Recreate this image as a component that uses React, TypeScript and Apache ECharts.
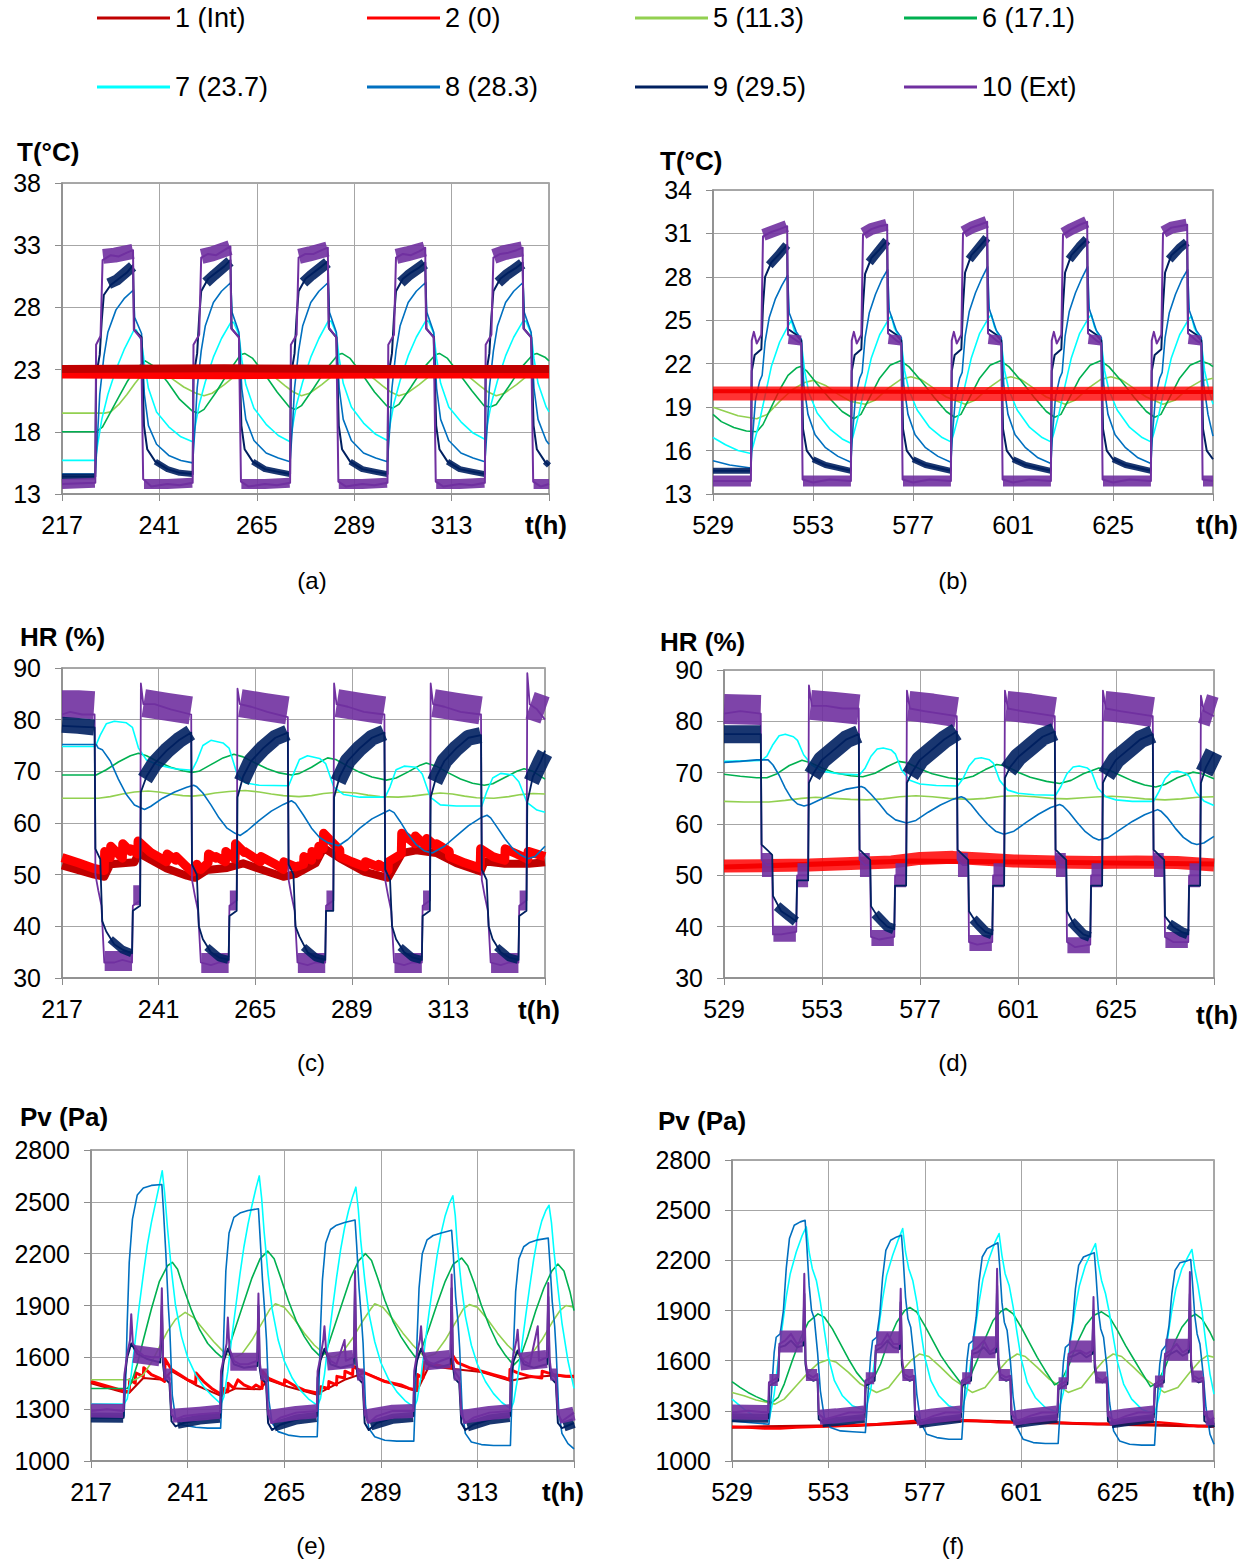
import React, { useEffect, useRef } from "react";
import * as echarts from "echarts";

type P = [number, number];

const FONT = '"Liberation Sans", Arial, Helvetica, sans-serif';

const N1 = "1 (Int)";
const N2 = "2 (0)";
const N5 = "5 (11.3)";
const N6 = "6 (17.1)";
const N7 = "7 (23.7)";
const N8 = "8 (28.3)";
const N9 = "9 (29.5)";
const N10 = "10 (Ext)";
const LEGEND_NAMES = [N1, N2, N5, N6, N7, N8, N9, N10];

const COLOR: Record<string, string> = {
  [N1]: "#C00000",
  [N2]: "#FF0000",
  [N5]: "#92D050",
  [N6]: "#00B050",
  [N7]: "#00FFFF",
  [N8]: "#0070C0",
  [N9]: "#002060",
  [N10]: "#7030A0",
};

// ================= Panel (a): T (°C), t 217-337 =================
const a_int: P[] = [[217, 23.05], [257, 23.1], [297, 23.05], [337, 23.05]];
const a_p0: P[] = [[217, 22.6], [257, 22.55], [297, 22.6], [337, 22.6]];
const a_s5: P[] = [[217,19.5],[227.5,19.5],[229,19.6],[231,20.2],[233,21.0],[235,21.9],[237,22.7],[239,23.1],[241,22.9],[244,22.3],[247,21.6],[250,21.1],[252,20.9],[254,21.1],[257,21.8],[260,22.6],[263,23.2],[264,23.3],[266,23.1],[269,22.5],[272,21.7],[274,21.2],[276,20.9],[278,21.1],[281,21.8],[284,22.6],[287,23.2],[288,23.3],[290,23.1],[293,22.5],[296,21.7],[298,21.2],[300,20.9],[302,21.1],[305,21.8],[308,22.6],[311,23.2],[312,23.3],[314,23.1],[317,22.5],[320,21.7],[322,21.2],[324,20.9],[326,21.1],[329,21.8],[332,22.6],[335,23.1],[337,23.2]];
const a_s6: P[] = [[217,18.0],[225.5,18.0],[227,18.4],[229,19.6],[231,20.8],[233,22.0],[235,23.0],[237.5,23.7],[240,23.2],[243,22.0],[246,20.6],[249,19.7],[250.5,19.5],[252,19.8],[255,21.2],[258,22.8],[261,24.2],[262,24.3],[264,23.9],[267,22.6],[270,21.2],[273,20.0],[274.5,19.8],[276,20.1],[279,21.5],[282,23.0],[285,24.2],[286,24.3],[288,23.9],[291,22.6],[294,21.2],[297,20.1],[298.5,19.9],[300,20.2],[303,21.6],[306,23.1],[309,24.2],[310,24.3],[312,23.9],[315,22.6],[318,21.3],[321,20.1],[322.5,20.0],[324,20.2],[327,21.6],[330,23.1],[333,24.2],[334,24.3],[336,24.0],[337,23.7]];
const a_s7: P[] = [[217,15.7],[225.2,15.7],
  [225.8,17.0],[226.8,19.0],[228.3,21.0],[230.3,23.0],[232.3,24.6],[234.6,26.1],[235.3,26.2],[236.6,25.3],[237.3,23.5],[238.3,21.5],[240.3,19.6],[243.3,18.4],[246.3,17.6],[249.2,17.2],
  [249.8,18.4],[250.8,20.2],[252.3,22.0],[254.3,24.0],[256.3,25.5],[258.6,26.8],[259.3,26.8],[260.6,25.8],[261.3,23.8],[262.3,21.8],[264.3,19.9],[267.3,18.6],[270.3,17.7],[273.2,17.2],
  [273.8,18.4],[274.8,20.2],[276.3,22.0],[278.3,24.0],[280.3,25.5],[282.6,26.9],[283.3,26.9],[284.6,25.9],[285.3,23.9],[286.3,21.9],[288.3,20.0],[291.3,18.7],[294.3,17.8],[297.2,17.3],
  [297.8,18.5],[298.8,20.3],[300.3,22.1],[302.3,24.1],[304.3,25.6],[306.6,26.9],[307.3,26.9],[308.6,25.9],[309.3,23.9],[310.3,21.9],[312.3,20.0],[315.3,18.8],[318.3,17.9],[321.2,17.4],
  [321.8,18.6],[322.8,20.3],[324.3,22.1],[326.3,24.1],[328.3,25.6],[330.6,26.9],[331.3,26.9],[332.6,25.9],[333.3,23.9],[334.3,21.9],[336.3,20.0],[337,19.6]];
const a_s8: P[] = [[217,14.6],[225.2,14.6],
  [225.8,18.0],[226.3,21.0],[227.3,24.0],[228.3,26.0],[230.3,27.8],[232.3,28.7],[234.6,29.4],[234.9,27.2],[236.6,25.9],[237.3,21.0],[238.3,18.5],[240.3,17.0],[243.3,16.1],[246.3,15.7],[249.2,15.5],
  [249.8,18.5],[250.3,21.5],[251.3,24.5],[252.3,26.5],[254.3,28.4],[256.3,29.3],[258.6,30.0],[258.9,27.6],[260.6,26.0],[261.3,21.5],[262.3,19.0],[264.3,17.3],[267.3,16.3],[270.3,15.9],[273.2,15.6],
  [273.8,18.5],[274.3,21.5],[275.3,24.5],[276.3,26.5],[278.3,28.4],[280.3,29.3],[282.6,30.0],[282.9,27.6],[284.6,26.0],[285.3,21.5],[286.3,19.0],[288.3,17.3],[291.3,16.3],[294.3,15.9],[297.2,15.6],
  [297.8,18.5],[298.3,21.5],[299.3,24.5],[300.3,26.5],[302.3,28.4],[304.3,29.3],[306.6,30.0],[306.9,27.6],[308.6,26.0],[309.3,21.5],[310.3,19.0],[312.3,17.3],[315.3,16.3],[318.3,15.9],[321.2,15.6],
  [321.8,18.5],[322.3,21.5],[323.3,24.5],[324.3,26.5],[326.3,28.4],[328.3,29.3],[330.6,30.0],[330.9,27.6],[332.6,26.0],[333.3,21.5],[334.3,19.0],[336.3,17.3],[337,17.0]];
const a_s9: P[] = [[217,14.4],[225.2,14.4],
  [225.4,22.5],[226.3,24.2],[226.8,27.0],[227.3,29.0],[229,29.8],[231,30.3],[233,30.8],[234.5,31.4],[234.8,26.2],[236.6,25.6],[237.2,18.5],[238,16.6],[240,15.6],[243,15.0],[246,14.7],[249.2,14.6],
  [249.4,22.5],[250.3,24.3],[250.8,27.2],[251.3,29.3],[253,30.3],[255,30.8],[257,31.3],[258.5,31.8],[258.8,26.3],[260.6,25.6],[261.2,18.5],[262,16.6],[264,15.6],[267,15.0],[270,14.8],[273.2,14.6],
  [273.4,22.5],[274.3,24.3],[274.8,27.2],[275.3,29.3],[277,30.3],[279,30.8],[281,31.3],[282.5,31.7],[282.8,26.3],[284.6,25.6],[285.2,18.5],[286,16.6],[288,15.6],[291,15.0],[294,14.8],[297.2,14.6],
  [297.4,22.5],[298.3,24.3],[298.8,27.2],[299.3,29.3],[301,30.3],[303,30.8],[305,31.2],[306.5,31.6],[306.8,26.3],[308.6,25.6],[309.2,18.5],[310,16.6],[312,15.6],[315,15.0],[318,14.8],[321.2,14.6],
  [321.4,22.5],[322.3,24.3],[322.8,27.2],[323.3,29.3],[325,30.3],[327,30.8],[329,31.2],[330.5,31.6],[330.8,26.3],[332.6,25.6],[333.2,18.5],[334,16.6],[336,15.6],[337,15.3]];
const a_s9_hi: P[][] = [[[228.5,29.9],[230.5,30.2],[234.4,31.3]],[[252.5,30.0],[254.5,30.6],[258.4,31.7]],[[276.5,30.0],[278.5,30.6],[282.4,31.6]],[[300.5,30.0],[302.5,30.6],[306.4,31.5]],[[324.5,30.0],[326.5,30.6],[330.4,31.5]]];
const a_s9_lo: P[][] = [[[217,14.4],[225.2,14.4]],[[240,15.6],[243,15.0],[246,14.7],[249.2,14.6]],[[264,15.6],[267,15.0],[270,14.8],[273.2,14.6]],[[288,15.6],[291,15.0],[294,14.8],[297.2,14.6]],[[312,15.6],[315,15.0],[318,14.8],[321.2,14.6]],[[336,15.6],[337,15.3]]];
const a_ext: P[] = [[217,13.8],[225.2,13.9],
  [225.4,25.0],[226.5,25.7],[227.0,31.8],[229,32.2],[231,32.1],[233,32.4],[234.5,32.6],[234.7,26.2],[236.5,25.5],[237.0,14.2],[239,13.6],[243,13.8],[246,13.7],[249.2,13.9],
  [249.4,25.0],[250.8,25.8],[251.3,32.0],[253,32.3],[255,32.2],[257,32.6],[258.5,32.9],[258.7,26.3],[260.6,25.6],[261.1,14.0],[263,13.6],[267,13.8],[270,13.7],[273.2,13.9],
  [273.4,25.0],[274.8,25.8],[275.3,32.0],[277,32.3],[279,32.3],[281,32.6],[282.5,32.8],[282.7,26.4],[284.6,25.6],[285.1,14.0],[287,13.6],[291,13.8],[294,13.7],[297.2,13.9],
  [297.4,25.0],[298.8,25.8],[299.3,32.0],[301,32.3],[303,32.2],[305,32.5],[306.5,32.8],[306.7,26.3],[308.6,25.6],[309.1,14.0],[311,13.6],[315,13.8],[318,13.7],[321.2,13.9],
  [321.4,25.0],[322.8,25.8],[323.3,32.0],[325,32.3],[327,32.4],[329,32.6],[330.5,32.8],[330.7,26.3],[332.6,25.6],[333.1,14.0],[335,13.6],[337,13.8]];
const a_ext_hi: P[][] = [[[227.1,32.1],[230,32.2],[234.5,32.5]],[[251.4,32.1],[254,32.3],[258.4,32.8]],[[275.4,32.1],[278,32.3],[282.4,32.7]],[[299.4,32.1],[302,32.3],[306.4,32.7]],[[323.4,32.1],[326,32.4],[330.4,32.7]]];
const a_ext_lo: P[][] = [[[217,13.8],[225.1,13.9]],[[237.2,13.8],[243,13.8],[249.1,13.9]],[[261.2,13.8],[267,13.8],[273.1,13.9]],[[285.2,13.8],[291,13.8],[297.1,13.9]],[[309.2,13.8],[315,13.8],[321.1,13.9]],[[333.2,13.8],[337,13.8]]];

// ================= Panel (b): T (°C), t 529-649 =================
const b_int: P[] = [[529,20.1],[589,20.05],[649,20.05]];
const b_p0: P[] = [[529,19.95],[549,19.95],[589,19.9],[649,19.95]];
const b_s5: P[] = [[529,19.0],[532,18.7],[535,18.4],[539.5,18.2],[542,18.5],[545,19.4],[548,20.2],[551,20.7],[553,20.85],[556,20.5],[559,19.9],[562,19.4],[565.5,19.2],[568,19.5],[571,20.3],[574,20.9],[576.5,21.1],[579,20.9],[582,20.3],[585,19.7],[589.5,19.2],[592,19.5],[595,20.3],[598,20.9],[600.5,21.1],[603,20.9],[606,20.3],[609,19.7],[613.5,19.2],[616,19.5],[619,20.3],[622,20.9],[624.5,21.1],[627,20.9],[630,20.3],[633,19.7],[637,19.2],[640,19.5],[643,20.3],[646,20.8],[649,21.0]];
const b_s6: P[] = [[529,18.5],[531,18.0],[534,17.6],[537,17.35],[539.5,17.3],[541,17.8],[543,19.0],[545,20.2],[547,21.2],[549,21.7],[550,21.8],[551.5,21.5],[554,20.6],[557,19.6],[560,18.7],[562.8,18.2],[564.5,18.5],[566.5,19.6],[569,21.0],[571.5,21.9],[574,22.2],[576,21.8],[579,20.8],[582,19.7],[585,18.7],[587,18.3],[588.5,18.5],[590.5,19.6],[593,21.0],[595.5,21.9],[598,22.2],[600,21.8],[603,20.8],[606,19.7],[609,18.7],[611,18.3],[612.5,18.5],[614.5,19.6],[617,21.0],[619.5,21.9],[622,22.2],[624,21.8],[627,20.8],[630,19.7],[633,18.7],[635,18.3],[636.5,18.5],[638.5,19.6],[641,21.0],[643.5,21.9],[646,22.2],[648,22.0],[649,21.8]];
const b_s7: P[] = [[529,16.9],[532,16.4],[535,16.0],[538.1,15.8],
  [538.8,16.5],[540,17.8],[541.5,19.8],[543,21.8],[545,23.5],[547,24.6],[547.8,25.0],[548.5,24.3],[550.2,23.5],[551,21.5],[552,20.0],[554,18.6],[557,17.5],[560,16.8],[562.1,16.5],
  [562.8,17.2],[564,18.5],[565.5,20.5],[567,22.4],[569,24.0],[571,25.0],[571.8,25.3],[572.5,24.5],[574.2,23.5],[575,21.5],[576,20.2],[578,18.8],[581,17.6],[584,16.9],[586.1,16.6],
  [586.8,17.2],[588,18.5],[589.5,20.5],[591,22.4],[593,24.1],[595,25.1],[595.8,25.4],[596.5,24.6],[598.2,23.5],[599,21.5],[600,20.2],[602,18.8],[605,17.6],[608,16.9],[610.1,16.6],
  [610.8,17.2],[612,18.5],[613.5,20.5],[615,22.4],[617,24.1],[619,25.1],[619.8,25.4],[620.5,24.6],[622.2,23.5],[623,21.5],[624,20.2],[626,18.8],[629,17.6],[632,16.9],[634.1,16.6],
  [634.8,17.2],[636,18.5],[637.5,20.5],[639,22.4],[641,24.0],[643,25.0],[643.8,25.3],[644.5,24.5],[646.2,23.5],[647,21.5],[648,20.2],[649,19.2]];
const b_s8: P[] = [[529,15.3],[533,15.0],[538.1,14.8],
  [538.5,17.0],[539.2,19.5],[540.2,20.8],[540.8,21.2],[541.5,23.5],[542.5,25.2],[544,26.5],[545.5,27.4],[546.9,28.1],[547.3,25.5],[549,24.2],[550.2,23.7],[550.8,20.5],[551.8,18.5],[553.5,17.1],[556,16.2],[559,15.6],[562.1,15.2],
  [562.5,17.2],[563.2,19.7],[564.2,21.0],[564.8,21.4],[565.5,23.8],[566.5,25.5],[568,26.8],[569.5,27.8],[570.9,28.5],[571.3,25.7],[573,24.3],[574.2,23.8],[574.8,20.5],[575.8,18.5],[577.5,17.1],[580,16.2],[583,15.6],[586.1,15.2],
  [586.5,17.2],[587.2,19.7],[588.2,21.0],[588.8,21.4],[589.5,23.9],[590.5,25.6],[592,26.9],[593.5,27.9],[594.9,28.7],[595.3,25.8],[597,24.3],[598.2,23.8],[598.8,20.5],[599.8,18.5],[601.5,17.1],[604,16.2],[607,15.5],[610.1,15.1],
  [610.5,17.2],[611.2,19.7],[612.2,21.0],[612.8,21.4],[613.5,23.9],[614.5,25.6],[616,26.9],[617.5,27.9],[618.9,28.7],[619.3,25.8],[621,24.3],[622.2,23.8],[622.8,20.5],[623.8,18.5],[625.5,17.1],[628,16.2],[631,15.5],[634.1,15.1],
  [634.5,17.2],[635.2,19.7],[636.2,21.0],[636.8,21.4],[637.5,23.8],[638.5,25.5],[640,26.8],[641.5,27.8],[642.9,28.5],[643.3,25.7],[645,24.3],[646.2,23.8],[646.8,20.5],[647.8,18.5],[649,17.0]];
const b_s9: P[] = [[529,14.6],[538.1,14.6],
  [538.3,21.5],[539,22.6],[540.6,23.0],[541.0,26.0],[541.5,28.0],[543,29.0],[545,29.6],[546.8,30.2],[547.0,24.4],[549,24.0],[550.2,23.6],[550.6,17.5],[551.5,16.0],[553,15.4],[556,15.0],[559,14.8],[562.1,14.6],
  [562.3,21.5],[563,22.6],[564.6,23.0],[565.0,26.0],[565.5,28.2],[567,29.3],[569,29.9],[570.8,30.5],[571.0,24.4],[573,24.0],[574.2,23.6],[574.6,17.5],[575.5,16.0],[577,15.4],[580,15.0],[583,14.8],[586.1,14.6],
  [586.3,21.5],[587,22.6],[588.6,23.0],[589.0,26.0],[589.5,28.3],[591,29.5],[593,30.1],[594.8,30.7],[595.0,24.4],[597,24.0],[598.2,23.6],[598.6,17.5],[599.5,16.0],[601,15.4],[604,15.0],[607,14.8],[610.1,14.6],
  [610.3,21.5],[611,22.6],[612.6,23.0],[613.0,26.0],[613.5,28.3],[615,29.5],[617,30.1],[618.8,30.6],[619.0,24.4],[621,24.0],[622.2,23.6],[622.6,17.5],[623.5,16.0],[625,15.4],[628,15.0],[631,14.8],[634.1,14.6],
  [634.3,21.5],[635,22.6],[636.6,23.0],[637.0,26.0],[637.5,28.3],[639,29.5],[641,30.0],[642.8,30.4],[643.0,24.4],[645,24.0],[646.2,23.6],[646.6,17.5],[647.5,16.0],[649,15.4]];
const b_s9_hi: P[][] = [[[542.5,28.8],[545,29.6],[546.7,30.2]],[[566.5,29.0],[569,29.9],[570.7,30.5]],[[590.5,29.2],[593,30.1],[594.7,30.7]],[[614.5,29.2],[617,30.1],[618.7,30.6]],[[638.5,29.2],[641,30.0],[642.7,30.4]]];
const b_s9_lo: P[][] = [[[529,14.6],[538.1,14.6]],[[553,15.4],[556,15.0],[559,14.8],[562.1,14.6]],[[577,15.4],[580,15.0],[583,14.8],[586.1,14.6]],[[601,15.4],[604,15.0],[607,14.8],[610.1,14.6]],[[625,15.4],[628,15.0],[631,14.8],[634.1,14.6]]];
const b_ext: P[] = [[529,13.9],[538.1,13.9],
  [538.3,23.6],[538.8,24.2],[539.5,23.4],[540.6,24.0],[541.0,30.8],[543,31.1],[545,31.3],[546.8,31.5],[547.0,24.0],[549,23.6],[550.2,23.4],[550.5,14.0],[553,13.8],[557,14.0],[562.1,13.9],
  [562.3,23.6],[562.8,24.2],[563.5,23.4],[564.6,24.0],[565.0,30.9],[567,31.3],[569,31.5],[570.8,31.6],[571.0,24.1],[573,23.6],[574.2,23.4],[574.5,14.0],[577,13.8],[581,14.0],[586.1,13.9],
  [586.3,23.6],[586.8,24.2],[587.5,23.4],[588.6,24.0],[589.0,31.0],[591,31.4],[593,31.6],[594.8,31.8],[595.0,24.1],[597,23.6],[598.2,23.4],[598.5,14.0],[601,13.8],[605,14.0],[610.1,13.9],
  [610.3,23.6],[610.8,24.2],[611.5,23.4],[612.6,24.0],[613.0,30.9],[615,31.3],[617,31.6],[618.8,31.8],[619.0,24.1],[621,23.6],[622.2,23.4],[622.5,14.0],[625,13.8],[629,14.0],[634.1,13.9],
  [634.3,23.6],[634.8,24.2],[635.5,23.4],[636.6,24.0],[637.0,31.0],[639,31.4],[641,31.5],[642.8,31.6],[643.0,24.1],[645,23.6],[646.2,23.4],[646.5,14.0],[649,13.9]];
const b_ext_hi: P[][] = [[[541.1,30.9],[543,31.1],[546.7,31.5]],[[565.1,31.0],[567,31.3],[570.7,31.6]],[[589.1,31.1],[591,31.4],[594.7,31.8]],[[613.1,31.0],[615,31.3],[618.7,31.8]],[[637.1,31.1],[639,31.4],[642.7,31.6]]];
const b_ext_sh: P[][] = [[[547.1,23.7],[550.1,23.6]],[[571.1,23.7],[574.1,23.6]],[[595.1,23.7],[598.1,23.6]],[[619.1,23.7],[622.1,23.6]],[[643.1,23.7],[646.1,23.6]]];
const b_ext_lo: P[][] = [[[529,13.9],[538.1,13.9]],[[550.6,13.9],[556,13.9],[562.1,13.9]],[[574.6,13.9],[580,13.9],[586.1,13.9]],[[598.6,13.9],[604,13.9],[610.1,13.9]],[[622.6,13.9],[628,13.9],[634.1,13.9]],[[646.6,13.9],[649,13.9]]];

// ================= Panel (c): HR (%), t 217-337 =================
const c_int: P[] = [[217,51.8],[225,50.0],[227.5,49.6],[229,52.0],[235,52.4],[236,54.2],[243,51.2],[248,49.8],[250,49.4],[253,50.9],[258,51.3],[262,52.2],[268,50.6],[272,49.6],[275,50.1],[280,52.2],[282,55.2],[286,53.2],[292,50.6],[298,49.4],[301.5,54.2],[305,54.7],[310,54.2],[315,52.2],[321,50.6],[322,52.6],[327,52.1],[333,52.1],[337,52.4]];
const c_p0: P[] = [[217,53.3],[221,52.3],[225,51.2],[227.5,50.8],[227.6,54.5],[229,53.3],[229.1,55.5],[232,53.2],[232.1,56],[234,54.5],[234.1,55],[235.8,54],[235.9,56.5],[239,54.3],[243,52.5],[243.1,54],[245.3,52.8],[245.4,53.5],[248,51.5],[249.5,50.5],[250.5,52],[251.5,51],[253.3,52.3],[253.4,54],[255.2,53.2],[255.3,53.5],[257.6,52.5],[257.7,54.5],[260,53],[260.1,56],[262.3,54.3],[262.4,54.5],[266.3,52.5],[266.4,53.5],[270,52],[272,51],[272.1,52.5],[275,51.5],[277,52],[277.1,53.5],[279,52.8],[279.1,54.5],[280.7,53.8],[280.8,55.5],[281.9,55],[282,58],[286,54.8],[286.1,53.5],[289,52.5],[292.3,51.5],[292.4,52.5],[295.6,51.5],[295.7,52],[298,50.8],[298.1,52.5],[301.3,54],[301.4,58],[304.7,56],[304.8,57.5],[307.5,55.5],[307.6,57],[309.9,55.5],[310,56],[313.2,54.5],[313.3,53.5],[317,52.3],[320.9,51.3],[321,55],[324,53.5],[327,52.8],[327.1,55],[330,54],[332.7,53],[332.8,54.5],[337,53.5]];
const c_s5: P[] = [[217,64.8],[226,64.8],[229,65.1],[232,65.6],[235,66.0],[238.4,66.2],[241,66.0],[244,65.6],[247,65.3],[249.5,65.2],[252,65.4],[255,65.8],[258.5,66.1],[262.5,66.3],[266,66.0],[269,65.6],[272,65.3],[275.9,65.1],[279,65.3],[282,65.7],[286.3,66.0],[290,65.8],[293,65.4],[296,65.1],[300.5,65.0],[304,65.2],[307,65.5],[311,65.8],[314,65.6],[317,65.2],[320,64.9],[324.3,64.8],[328,65.1],[331,65.5],[334,65.7],[337,65.6]];
const c_s6: P[] = [[217,69.3],[225.5,69.3],[228,70.3],[231,71.8],[234,73.0],[236,73.5],[238,73.0],[241,71.8],[244,70.8],[247,70.1],[249.3,69.8],[251,70.0],[254,71.3],[257,72.6],[259.7,73.3],[262,72.8],[265,71.6],[268,70.5],[271,69.7],[274,69.3],[276,69.6],[279,70.8],[281.5,72.0],[283,72.6],[285,72.3],[288,71.0],[291,69.8],[294,68.9],[297.6,68.3],[300,68.7],[303,69.9],[306,71.2],[307.5,71.6],[310,71.0],[313,69.7],[316,68.5],[319,67.7],[321.9,67.3],[324,67.6],[327,68.8],[330,70.0],[331.8,70.5],[334,70.0],[337,68.5]];
const c_s7: P[] = [[217,74.8],[225.3,74.8],[226.5,77],[228,79.2],[230,79.7],[233,79.4],[234.5,78.5],[236,74.5],[238,72.2],[241,71.2],[245,70.5],[249.3,70.2],[250.5,72],[252,75],[254,76.0],[257,75.5],[258.5,74.5],[260.5,69.5],[262.5,67.8],[266,67.3],[273.3,67.2],[274.5,69.5],[276,72.3],[278,73.0],[281,72.5],[282.5,71.5],[284.5,67],[287,65.5],[291,65.0],[297.3,65.0],[298.5,67],[300,70.3],[302,71.0],[305,70.8],[306.5,69.5],[308.5,65],[311,63.5],[315,63.3],[321.3,63.3],[322.5,66],[324,68.7],[326,69.6],[329,69.3],[330.5,68],[332.5,64],[335,62.5],[337,62.1]];
const c_s8: P[] = [[217,75.2],[225.5,75.2],[226,74.5],[227,74.2],[229,72],[231,68.5],[233,65.5],[235,63.5],[237.5,62.6],[239,63.2],[242,64.8],[245,66.0],[248,66.9],[249.7,67.3],[250.5,67.0],[252,65.8],[254,63.5],[256,61],[258,59],[260,58.0],[261.3,57.6],[263,58.5],[266,60.5],[269,62.3],[272,63.6],[274,64.3],[275,63.8],[277,61.5],[279,59],[281,57.2],[283,56.2],[285.7,55.6],[288,56.8],[291,59.0],[294,60.8],[297,62.0],[298.4,62.5],[299.5,62],[301,60.3],[303,57.8],[305,55.8],[307,54.6],[309,54.2],[312,55.5],[315,57.5],[318,59.5],[321,61.0],[322.6,61.5],[323.5,61.0],[325,59.3],[327,57],[329,55],[331,53.8],[332.7,53.1],[334.5,53.5],[337,55.5]];
const c_s9: P[] = [[217,78.8],[225.1,78.5],
  [225.3,55],[226.5,53],[227,41],[228,39],[230,36.5],[232,35.5],[234.4,34.8],[234.6,43],[236.4,44],[236.6,66],[238,69],[240,71.5],[243,74],[246,76],[249.1,77.5],
  [249.3,52],[250.5,50],[251,40],[252,37.5],[254,35],[256,34],[258.4,33.5],[258.6,42],[260.4,43],[260.6,65],[262,69],[264,72],[267,74.5],[270,76.5],[273.1,77.5],
  [273.3,52],[274.5,50],[275,40],[276,38],[278,35],[280,34],[282.4,33.5],[282.6,43],[284.4,43],[284.6,65],[286,69],[288,72],[291,74.5],[294,76.5],[297.1,77.5],
  [297.3,51],[298.5,49],[299,40],[300,37.5],[302,35],[304,34],[306.4,33.5],[306.6,42],[308.4,43],[308.6,65],[310,69],[312,72],[315,74.5],[318,76.5],[321.1,77],
  [321.3,51],[322.5,49],[323,40],[324,37.5],[326,35],[328,34],[330.4,33.5],[330.6,42],[332.4,43],[332.6,64],[334,69],[336,72],[337,74]];
const c_s9_hi: P[][] = [[[217,79],[221,78.8],[225.0,78.5]],[[237.6,68.5],[240,71.5],[243,74],[246,76],[249.0,77.5]],[[261.6,68],[264,72],[267,74.5],[270,76.5],[273.0,77.5]],[[285.6,68],[288,72],[291,74.5],[294,76.5],[297.0,77.5]],[[309.6,68],[312,72],[315,74.5],[318,76.5],[321.0,77]],[[333.6,68],[336,72],[337,73.5]]];
const c_s9_lo: P[][] = [[[229,37.5],[232,35.5],[234.3,34.8]],[[253,36],[256,34],[258.3,33.5]],[[277,36],[280,34],[282.3,33.5]],[[301,36],[304,34],[306.3,33.5]],[[325,36],[328,34],[330.3,33.5]]];
const c_ext: P[] = [[217,81],[219,81.5],[222,81],[225.1,81],
  [225.3,50],[226,47],[226.8,44],[227.5,33],[230,33],[232,33.5],[234.4,33],[234.6,44],[236.4,45],[236.6,87],[237.2,83],[240,83],[244,82],[249.1,81],
  [249.3,49],[250,46],[250.8,43],[251.5,33],[254,32.5],[256,33],[258.4,33],[258.6,44],[260.4,45],[260.6,86],[261.2,83],[264,82.5],[268,81.5],[273.1,80.5],
  [273.3,49],[274,46],[274.8,43],[275.5,33],[278,32.5],[280,33],[282.4,33],[282.6,44],[284.4,45],[284.6,87],[285.2,83],[288,82.5],[292,81.5],[297.1,81],
  [297.3,49],[298,46],[298.8,43],[299.5,33],[302,32.5],[304,33],[306.4,33],[306.6,44],[308.4,45],[308.6,87],[309.2,83],[312,82.5],[316,81.5],[321.1,81],
  [321.3,49],[322,46],[322.8,43],[323.5,33],[326,32.5],[328,33],[330.4,33],[330.6,44],[332.4,45],[332.6,89],[333.2,83],[335,82],[337,80]];
const c_ext_hi: P[][] = [[[217,83],[221,83],[225.0,82.8]],[[237.3,83.2],[243,82.5],[249.0,81.8]],[[261.3,83.2],[267,82.5],[273.0,81.8]],[[285.3,83.2],[291,82.5],[297.0,81.8]],[[309.3,83.2],[315,82.5],[321.0,81.8]],[[333.3,82.8],[337,81.8]]];
const c_ext_lo: P[][] = [[[227.6,33.3],[234.4,33.3]],[[251.6,32.9],[258.4,32.9]],[[275.6,32.9],[282.4,32.9]],[[299.6,32.9],[306.4,32.9]],[[323.6,32.9],[330.4,32.9]]];
const c_ext_sh: P[][] = [[[234.7,46],[236.4,46]],[[258.7,45],[260.4,45]],[[282.7,45],[284.4,45]],[[306.7,45],[308.4,45]],[[330.7,45],[332.4,45]]];

// ================= Panel (d): HR (%), t 529-649 =================
const d_int: P[] = [[529,51.6],[575,52.8],[600,52.6],[649,52.2]];
const d_p0: P[] = [[529,51.8],[540,51.9],[550,52.0],[560,52.3],[570,52.6],[577,53.3],[585,53.5],[592,53.2],[600,52.8],[610,52.6],[620,52.5],[630,52.6],[640,52.5],[649,52.0]];
const d_s5: P[] = [[529,64.4],[534,64.3],[540,64.3],[544,64.6],[548,65.0],[551.5,65.2],[556,65.0],[560,64.8],[564,64.7],[568,64.9],[572,65.3],[576,65.5],[580,65.3],[584,65.0],[589,64.8],[593,65.0],[597,65.4],[601,65.5],[605,65.3],[609,65.0],[613,64.9],[617,65.1],[621,65.3],[624,65.4],[628,65.2],[632,64.9],[637,64.7],[641,64.9],[645,65.2],[649,65.3]];
const d_s6: P[] = [[529,69.7],[533,69.3],[537,69.0],[539.5,69.0],[542,69.8],[545,71.4],[548.1,72.4],[550,72.0],[553,70.9],[556,70.0],[560,69.4],[563,69.2],[566,69.9],[569,71.2],[571.7,72.2],[574,71.9],[577,70.7],[580,69.8],[584,69.0],[587,68.7],[590,69.3],[593,70.6],[595.8,71.6],[598,71.3],[601,70.1],[604,69.1],[608,68.3],[611.2,67.9],[614,68.5],[617,69.8],[620.8,70.9],[623,70.6],[626,69.5],[629,68.4],[632,67.6],[634.7,67.2],[637,67.7],[640,69.0],[643.8,70.1],[646,69.8],[649,68.8]];
const d_s7: P[] = [[529,72.2],[534,72.3],[538.2,72.4],[539.5,73.2],[541,75.5],[542.5,77.2],[544,77.5],[546,77.0],[547,76.3],[548.5,73.5],[550.5,71.5],[553,70.3],[557,69.8],[562.2,69.6],[563.5,70.8],[565,73.2],[566.5,74.6],[568,74.8],[570,74.4],[571,73.6],[572.5,70.5],[574.5,68.5],[577,67.8],[581,67.5],[586.2,67.4],[587.5,68.8],[589,71.3],[590.5,72.7],[592,72.9],[594,72.5],[595,71.8],[596.5,68.5],[598.5,66.6],[601,66.0],[605,65.7],[610.2,65.6],[611.5,67.3],[613,69.8],[614.5,71.1],[616,71.3],[618,70.9],[619,70.2],[620.5,67],[622.5,65.3],[625,64.7],[629,64.4],[634.2,64.4],[635.5,66.3],[637,68.8],[638.5,70.1],[640,70.3],[642,69.9],[643,69.2],[644.5,66.3],[646.5,64.5],[649,63.6]];
const d_s8: P[] = [[529,72.0],[533,72.2],[537,72.5],[539.8,72.5],[541,71.5],[542.5,69.5],[544,67.0],[545.5,65.0],[547,63.9],[548.6,63.5],[550,63.8],[553,64.9],[556,66.0],[559,66.8],[562.6,67.3],[563.5,67.0],[565,65.8],[567,64.0],[569,62.0],[571,60.8],[573.7,60.2],[576,60.7],[579,62.3],[582,63.7],[585,64.8],[587.1,65.3],[588,65.0],[589.5,63.8],[591.5,61.8],[593.5,60.0],[595.5,58.6],[597.6,58.0],[600,58.6],[603,60.3],[606,61.9],[609,63.2],[611.2,63.8],[612,63.5],[613.5,62.3],[615.5,60.3],[617.5,58.5],[619.5,57.3],[620.8,56.9],[623,57.3],[626,58.9],[629,60.5],[632,61.8],[635.2,62.8],[636,62.5],[637.5,61.3],[639.5,59.2],[641.5,57.4],[643.5,56.3],[644.8,56.0],[646.5,56.3],[649,57.6]];
const d_s9: P[] = [[529,77.5],[538.0,77.5],
  [538.2,56],[539.5,55],[540.8,54],[541.0,46],[543,43],[545,42],[546.7,41],[546.9,49],[549.6,49],[549.8,68],[551,70],[553,72.5],[556,74.5],[559,76.5],[562.0,77.5],
  [562.2,55],[563.5,54],[564.8,53],[565.0,44],[567,41.5],[569,40],[570.7,39.5],[570.9,48],[573.6,48],[573.8,68],[575,70],[577,72.5],[580,74.5],[583,76.5],[586.0,78],
  [586.2,55],[587.5,54],[588.8,53],[589.0,43],[591,40.5],[593,39],[594.7,38.5],[594.9,48],[597.6,48],[597.8,69],[599,71],[601,73],[604,75],[607,77],[610.0,78],
  [610.2,55],[611.5,54],[612.8,53],[613.0,43],[615,40],[617,38.5],[618.7,38],[618.9,48],[621.6,48],[621.8,68],[623,70],[625,72.5],[628,74.5],[631,76.5],[634.0,77.5],
  [634.2,55],[635.5,54],[636.8,53],[637.0,42],[639,40],[641,39],[642.7,38.5],[642.9,48],[645.6,48],[645.8,68],[647,71],[649,74]];
const d_s9_hi: P[][] = [[[529,77.5],[533,77.5],[538.0,77.5]],[[550.6,69.5],[553,72.5],[556,74.5],[559,76.5],[562.0,77.5]],[[574.6,69.5],[577,72.5],[580,74.5],[583,76.5],[586.0,78]],[[598.6,70.5],[601,73],[604,75],[607,77],[610.0,78]],[[622.6,69.5],[625,72.5],[628,74.5],[631,76.5],[634.0,77.5]],[[646.6,70],[649,74]]];
const d_s9_lo: P[][] = [[[542,44],[545,42],[546.6,41]],[[566,42.5],[569,40],[570.6,39.5]],[[590,41.5],[593,39],[594.6,38.5]],[[614,41],[617,38.5],[618.6,38]],[[638,40.5],[641,39],[642.6,38.5]]];
const d_ext: P[] = [[529,81.5],[533,82],[538.0,81.5],
  [538.2,53],[539.5,52],[540.8,52],[541.0,38.5],[543,38.5],[546.7,39],[546.9,50],[549.6,50],[549.8,87],[550.5,83],[554,83],[558,82.5],[562.0,82.5],
  [562.2,53],[563.5,52],[564.8,52],[565.0,38],[567,37.5],[570.7,38],[570.9,50],[573.6,50],[573.8,86],[574.5,82.5],[578,82],[582,81.5],[586.0,81],
  [586.2,53],[587.5,52],[588.8,52],[589.0,37],[591,36.5],[594.7,37],[594.9,50],[597.6,50],[597.8,86],[598.5,82.5],[602,82],[606,81.5],[610.0,81],
  [610.2,53],[611.5,52],[612.8,52],[613.0,37],[615,36],[618.7,36.5],[618.9,50],[621.6,50],[621.8,86],[622.5,82.5],[626,82],[630,81.5],[634.0,81],
  [634.2,53],[635.5,52],[636.8,52],[637.0,38],[639,37],[642.7,37],[642.9,50],[645.6,50],[645.8,85],[646.5,82],[649,81]];
const d_ext_hi: P[][] = [[[529,82.4],[538.0,82.2]],[[550.2,83.2],[556,82.8],[562.0,82.3]],[[574.2,83],[580,82.5],[586.0,81.8]],[[598.2,83],[604,82.5],[610.0,81.8]],[[622.2,83],[628,82.5],[634.0,81.8]],[[646.2,82.5],[649,81.8]]];
const d_ext_lo: P[][] = [[[541.1,38.6],[546.6,38.6]],[[565.1,37.8],[570.6,37.8]],[[589.1,36.8],[594.6,36.8]],[[613.1,36.4],[618.6,36.4]],[[637.1,37.4],[642.6,37.4]]];
const d_ext_sh: P[][] = [[[538.3,52],[540.7,52]],[[547.0,50],[549.6,50]],[[562.3,52],[564.7,52]],[[571.0,50],[573.6,50]],[[586.3,52],[588.7,52]],[[595.0,50],[597.6,50]],[[610.3,52],[612.7,52]],[[619.0,50],[621.6,50]],[[634.3,52],[636.7,52]],[[643.0,50],[645.6,50]]];

// ================= Panel (e): Pv (Pa), t 217-337 =================
const e_int: P[] = [[217,1450],[225,1398],[226.5,1395],[230,1480],[235,1470],[237,1520],[243,1440],[249,1380],[253,1420],[259,1415],[261,1470],[266,1430],[273,1385],[280,1470],[285,1510],[292,1445],[298,1405],[301,1550],[306,1535],[314,1515],[321,1465],[326,1485],[332,1495],[337,1485]];
const e_p0: P[] = [[217,1460],[220,1440],[223,1420],[225,1405],[226.5,1400],[226.6,1470],[228,1450],[228.1,1510],[230,1490],[230.1,1540],[232,1500],[234,1480],[235.3,1460],[235.4,1590],[237,1530],[239,1500],[241,1470],[243,1450],[243.1,1510],[245,1460],[247,1420],[249,1390],[249.5,1380],[250,1420],[251,1400],[251.1,1450],[252.5,1420],[253.5,1470],[255,1440],[256,1430],[257,1420],[258,1440],[259.5,1420],[259.6,1520],[261,1480],[263,1460],[265,1440],[265.1,1470],[268,1430],[270,1410],[272,1400],[274,1390],[274.1,1430],[276,1420],[276.1,1460],[278,1440],[278.1,1490],[280,1480],[280.1,1520],[282,1500],[282.1,1550],[284,1520],[286,1500],[288,1480],[290,1460],[292,1450],[294,1440],[296,1420],[298,1410],[298.1,1500],[299.5,1480],[299.6,1570],[302,1560],[304,1550],[306.5,1540],[306.6,1620],[308,1570],[311,1540],[314,1520],[317,1500],[320,1480],[321,1470],[321.1,1530],[323,1510],[326,1490],[329,1480],[329.1,1520],[332,1500],[335,1490],[337,1490]];
const e_s5: P[] = [[217,1470],[228,1470],[230,1500],[232,1570],[234,1660],[236,1750],[238,1820],[240.4,1860],[242.5,1830],[245,1760],[247.5,1690],[250,1630],[252.3,1595],[254.5,1620],[257,1700],[259.5,1800],[261.5,1880],[262.8,1910],[265,1890],[267.5,1820],[270,1740],[272.5,1670],[275,1620],[277.1,1600],[279.5,1630],[282,1710],[284.5,1810],[286.5,1880],[287.5,1910],[289.5,1890],[292,1820],[294.5,1740],[297,1670],[300,1600],[302.5,1620],[305,1700],[307.5,1800],[309.5,1880],[311,1905],[313,1890],[315.5,1820],[318,1740],[320.5,1670],[324.3,1590],[326.5,1620],[329,1700],[331.5,1800],[333.5,1870],[335,1900],[337,1890]];
const e_s6: P[] = [[217,1420],[226,1420],[227,1450],[228.5,1560],[230,1700],[232,1880],[234,2040],[236,2130],[237.2,2150],[238.5,2110],[240,2000],[242,1870],[244,1760],[246,1680],[248,1630],[249.5,1600],[251,1640],[253,1780],[255,1920],[257,2060],[259,2170],[260.9,2215],[262.5,2170],[264,2070],[266,1930],[268,1810],[270,1720],[272,1650],[274.2,1600],[275.5,1640],[277.5,1780],[279.5,1920],[281.5,2060],[283.5,2160],[285.2,2200],[286.7,2160],[288.2,2060],[290,1930],[292,1810],[294,1720],[296,1650],[297.6,1600],[299,1640],[301,1770],[303,1910],[305,2040],[307,2140],[309.1,2175],[310.6,2130],[312.2,2030],[314,1900],[316,1780],[318,1680],[320,1610],[322,1555],[323.5,1590],[325.5,1720],[327.5,1870],[329.5,2000],[331.5,2100],[333,2140],[334.5,2100],[336,1980],[337,1870]];
const e_s7: P[] = [[217,1330],[225.2,1330],
  [226,1360],[227,1500],[228,1700],[229,1900],[230,2080],[231,2250],[232,2380],[233,2490],[234,2600],[234.7,2680],[235.3,2550],[236,2350],[237,2100],[238,1900],[239.5,1720],[241,1600],[243,1500],[245,1430],[247,1380],[249.3,1330],
  [250,1370],[251,1520],[252,1720],[253,1900],[254,2080],[255,2240],[256,2370],[257,2480],[258,2580],[258.8,2650],[259.4,2520],[260,2330],[261,2080],[262,1880],[263.5,1700],[265,1580],[267,1480],[269,1410],[271,1360],[273.3,1320],
  [274,1360],[275,1500],[276,1700],[277,1880],[278,2060],[279,2220],[280,2350],[281,2450],[282,2530],[282.8,2585],[283.4,2460],[284,2280],[285,2050],[286,1860],[287.5,1690],[289,1570],[291,1470],[293,1400],[295,1350],[297.3,1310],
  [298,1350],[299,1490],[300,1680],[301,1860],[302,2030],[303,2190],[304,2320],[305,2420],[306,2490],[306.9,2535],[307.5,2420],[308,2250],[309,2020],[310,1840],[311.5,1670],[313,1560],[315,1460],[317,1390],[319,1340],[321.3,1300],
  [322,1340],[323,1480],[324,1660],[325,1840],[326,2010],[327,2170],[328,2300],[329,2390],[330,2450],[330.8,2480],[331.4,2380],[332,2220],[333,2000],[334,1800],[335.5,1580],[337,1420]];
const e_s8: P[] = [[217,1260],[225.2,1260],
  [225.6,1450],[226.0,1800],[226.5,2150],[227.3,2400],[228.5,2540],[230,2580],[232,2595],[234.6,2600],[235.0,2450],[235.6,2200],[236.2,1900],[236.6,1750],[237.2,1380],[238,1250],[239.5,1210],[243,1195],[246,1190],[249.2,1190],
  [249.6,1400],[250.0,1750],[250.5,2100],[251.3,2320],[252.5,2410],[254,2435],[256,2450],[258.6,2460],[259.0,2300],[259.6,2050],[260.2,1850],[260.6,1700],[261.2,1350],[262,1220],[263.5,1170],[266,1150],[269,1140],[273.2,1140],
  [273.6,1400],[274.0,1750],[274.5,2050],[275.3,2260],[276.5,2340],[278,2365],[280,2380],[282.6,2395],[283.0,2250],[283.6,2000],[284.2,1820],[284.6,1680],[285.2,1320],[286,1190],[287.5,1140],[290,1120],[293,1115],[297.2,1115],
  [297.6,1380],[298.0,1700],[298.5,2000],[299.3,2200],[300.5,2280],[302,2305],[304,2320],[306.6,2335],[307.0,2200],[307.6,1950],[308.2,1800],[308.6,1650],[309.2,1300],[310,1160],[311.5,1110],[314,1095],[317,1090],[321.2,1090],
  [321.6,1380],[322.0,1680],[322.5,1980],[323.3,2170],[324.5,2240],[326,2265],[328,2280],[330.6,2290],[331.0,2150],[331.6,1920],[332.2,1780],[332.6,1620],[333.2,1290],[334,1160],[335.5,1100],[337,1070]];
const e_s9: P[] = [[217,1250],[225.1,1250],
  [225.3,1470],[226,1600],[227,1680],[228.5,1620],[231,1590],[234.2,1570],[234.6,1900],[234.9,1560],[235.3,1480],[236.5,1450],[237.0,1230],[238,1200],[240,1220],[244,1240],[249.1,1250],
  [249.3,1480],[250,1580],[251,1650],[252.5,1560],[255,1540],[258.3,1550],[258.6,1900],[258.9,1540],[259.3,1480],[260.5,1450],[261.0,1220],[262,1180],[264,1210],[268,1240],[273.1,1260],
  [273.3,1480],[274,1580],[275,1650],[276.5,1560],[279,1540],[282.3,1560],[282.6,2000],[282.9,1560],[283.3,1480],[284.5,1450],[285.0,1220],[286,1180],[288,1220],[292,1250],[297.1,1260],
  [297.3,1480],[298,1580],[299,1650],[300.5,1560],[303,1540],[306.3,1560],[306.6,2000],[306.9,1560],[307.3,1480],[308.5,1450],[309.0,1220],[310,1180],[312,1210],[316,1240],[321.1,1260],
  [321.3,1480],[322,1580],[323,1640],[324.5,1560],[327,1540],[330.3,1560],[330.6,1950],[330.9,1560],[331.3,1480],[332.5,1450],[333.0,1220],[334,1190],[337,1220]];
const e_s9_lo: P[][] = [[[217,1252],[225.0,1250]],[[238.5,1215],[244,1240],[249.0,1250]],[[262.5,1200],[268,1240],[273.0,1255]],[[286.5,1205],[292,1245],[297.0,1255]],[[310.5,1200],[316,1240],[321.0,1255]],[[334.5,1200],[337,1220]]];
const e_ext: P[] = [[217,1290],[221,1300],[225.1,1290],
  [225.3,1500],[226,1620],[226.7,1700],[227.0,1850],[227.4,1680],[228.5,1640],[230,1610],[232,1600],[234.2,1600],[234.6,2000],[234.9,1600],[235.3,1500],[236.5,1480],[237.0,1270],[238,1240],[240,1260],[244,1270],[249.1,1280],
  [249.3,1520],[250,1600],[250.7,1680],[251.0,1830],[251.4,1650],[252.5,1580],[254,1560],[256,1560],[258.3,1580],[258.6,1970],[258.9,1580],[259.3,1500],[260.5,1480],[261.0,1270],[262,1220],[264,1250],[268,1280],[273.1,1290],
  [273.3,1520],[274,1600],[274.7,1700],[275.0,1780],[275.4,1640],[276.5,1580],[278,1560],[280,1700],[280.3,1580],[282.3,1600],[282.6,2100],[282.9,1600],[283.3,1500],[284.5,1480],[285.0,1270],[286,1220],[288,1260],[292,1290],[297.1,1290],
  [297.3,1520],[298,1620],[298.7,1700],[299.0,1780],[299.4,1640],[300.5,1580],[302,1560],[304,1580],[306.3,1600],[306.6,2080],[306.9,1600],[307.3,1520],[308.5,1480],[309.0,1270],[310,1220],[312,1250],[316,1280],[321.1,1290],
  [321.3,1530],[322,1620],[322.7,1700],[323.0,1760],[323.4,1620],[324.5,1580],[326,1560],[328,1780],[328.3,1580],[330.3,1600],[330.6,2030],[330.9,1600],[331.3,1520],[332.5,1480],[333.0,1270],[334,1230],[337,1280]];
const e_ext_hi: P[][] = [[[227.6,1620],[234.1,1600]],[[251.6,1575],[258.2,1575]],[[275.6,1575],[282.2,1590]],[[299.6,1575],[306.2,1590]],[[323.6,1575],[330.2,1590]]];
const e_ext_sh: P[][] = [[[235.1,1500],[236.8,1500]],[[259.1,1500],[260.8,1500]],[[283.1,1500],[284.8,1500]],[[307.1,1500],[308.8,1500]],[[331.1,1500],[332.8,1500]]];
const e_ext_lo: P[][] = [[[217,1292],[225.0,1290]],[[237.2,1262],[244,1274],[249.0,1285]],[[261.2,1255],[268,1278],[273.0,1288]],[[285.2,1258],[292,1285],[297.0,1290]],[[309.2,1255],[316,1278],[321.0,1288]],[[333.2,1255],[337,1275]]];

// ================= Panel (f): Pv (Pa), t 529-649 =================
const f_int: P[] = [[529,1202],[560,1212],[585,1242],[620,1222],[649,1208]];
const f_p0: P[] = [[529,1205],[533,1200],[537,1195],[541,1195],[545,1200],[550,1205],[555,1210],[560,1215],[565,1220],[570,1230],[575,1240],[580,1245],[585,1245],[590,1240],[595,1232],[600,1230],[605,1232],[610,1230],[615,1225],[620,1222],[625,1225],[630,1230],[635,1232],[640,1222],[645,1208],[649,1210]];
const f_s5: P[] = [[529,1410],[532,1390],[535,1365],[539.7,1340],[542,1370],[545,1450],[548,1530],[550.5,1585],[552.9,1605],[555,1590],[558,1530],[561,1460],[565,1410],[568,1440],[571,1530],[573.5,1600],[575.7,1640],[578,1625],[581,1560],[584,1490],[588.8,1410],[592,1440],[595,1530],[597.5,1600],[600,1640],[602,1625],[605,1560],[608,1490],[612.7,1410],[616,1440],[619,1530],[621.5,1600],[623.9,1640],[626,1625],[629,1560],[632,1490],[636.6,1410],[640,1440],[643,1530],[645.5,1600],[647.3,1630],[649,1620]];
const f_s6: P[] = [[529,1475],[531,1440],[533,1410],[535,1385],[537.3,1360],[539,1350],[540.5,1380],[542,1460],[544,1600],[546,1730],[548,1830],[550.4,1880],[552,1860],[554,1790],[556,1700],[558,1610],[560,1530],[562.6,1455],[564,1480],[566,1580],[568,1720],[570,1830],[572,1900],[573.3,1918],[575,1890],[577,1810],[579,1720],[581,1630],[583,1560],[586,1465],[588,1490],[590,1600],[592,1730],[594,1840],[596,1895],[597.2,1912],[599,1880],[601,1800],[603,1710],[605,1620],[607,1540],[609.3,1455],[611,1480],[613,1580],[615,1710],[617,1810],[619,1870],[621,1892],[623,1860],[625,1780],[627,1690],[629,1610],[631,1530],[633.2,1445],[635,1470],[637,1570],[639,1700],[641,1800],[643,1860],[644.4,1878],[646,1850],[648,1770],[649,1720]];
const f_s7: P[] = [[529,1370],[532,1310],[535,1260],[538.2,1240],
  [539.5,1400],[540.5,1600],[541.5,1800],[542.5,1980],[543.5,2120],[545,2250],[546.5,2350],[547.5,2400],[548.2,2250],[549,2150],[550,2080],[551,1950],[552,1780],[553,1620],[554.5,1480],[556.5,1390],[559,1330],[562.2,1300],
  [563.5,1420],[564.5,1600],[565.5,1790],[566.5,1970],[567.5,2110],[569,2230],[570.5,2330],[571.5,2390],[572.2,2250],[573,2150],[574,2080],[575,1950],[576,1780],[577,1620],[578.5,1480],[580.5,1390],[583,1330],[586.2,1300],
  [587.5,1420],[588.5,1600],[589.5,1780],[590.5,1950],[591.5,2090],[593,2210],[594.5,2310],[595.5,2360],[596.2,2230],[597,2120],[598,2050],[599,1920],[600,1760],[601,1610],[602.5,1470],[604.5,1380],[607,1320],[610.2,1290],
  [611.5,1410],[612.5,1580],[613.5,1760],[614.5,1920],[615.5,2050],[617,2170],[618.5,2250],[619.5,2300],[620.2,2180],[621,2080],[622,2000],[623,1880],[624,1730],[625,1590],[626.5,1460],[628.5,1370],[631,1310],[634.2,1280],
  [635.5,1400],[636.5,1570],[637.5,1740],[638.5,1900],[639.5,2030],[641,2150],[642.5,2220],[643.5,2265],[644.2,2150],[645,2050],[646,1900],[647,1700],[648,1520],[649,1400]];
const f_s8: P[] = [[529,1240],[533,1230],[538.2,1220],
  [538.8,1400],[539.5,1650],[540,1740],[541,1760],[541.8,1900],[542.5,2150],[543.3,2330],[544.5,2410],[546,2430],[547.2,2440],[547.6,2300],[548.2,2050],[548.8,1900],[549.5,1850],[550.3,1650],[551,1420],[552,1260],[553.5,1200],[556,1180],[559,1175],[562.2,1170],
  [562.8,1380],[563.5,1620],[564,1720],[565,1740],[565.8,1880],[566.5,2100],[567.3,2260],[568.5,2320],[570,2340],[571.2,2350],[571.6,2220],[572.2,1980],[572.8,1850],[573.5,1800],[574.3,1620],[575,1400],[576,1230],[577.5,1160],[580,1140],[583,1130],[586.2,1130],
  [586.8,1360],[587.5,1600],[588,1700],[589,1720],[589.8,1860],[590.5,2070],[591.3,2220],[592.5,2270],[594,2290],[595.2,2305],[595.6,2180],[596.2,1950],[596.8,1830],[597.5,1780],[598.3,1600],[599,1380],[600,1200],[601.5,1130],[604,1110],[607,1105],[610.2,1105],
  [610.8,1350],[611.5,1590],[612,1680],[613,1700],[613.8,1830],[614.5,2030],[615.3,2170],[616.5,2220],[618,2235],[619.2,2245],[619.6,2120],[620.2,1900],[620.8,1790],[621.5,1740],[622.3,1570],[623,1350],[624,1180],[625.5,1120],[628,1100],[631,1095],[634.2,1095],
  [634.8,1340],[635.5,1580],[636,1660],[637,1690],[637.8,1810],[638.5,2000],[639.3,2140],[640.5,2185],[642,2195],[643.2,2205],[643.6,2080],[644.2,1870],[644.8,1760],[645.5,1700],[646.3,1520],[647,1320],[648,1160],[649,1100]];
const f_s9: P[] = [[529,1260],[538.0,1255],
  [538.3,1450],[540.5,1480],[540.8,1680],[542.2,1690],[543.7,1720],[545.2,1680],[546.7,1690],[547.0,2000],[547.3,1580],[547.8,1500],[549.2,1480],[550.3,1490],[550.6,1250],[552.2,1220],[555.2,1240],[558.2,1255],[562.0,1260],
  [562.3,1450],[564.5,1480],[564.8,1660],[566.2,1680],[567.7,1720],[569.2,1680],[570.7,1670],[571.0,1950],[571.3,1580],[571.8,1500],[573.2,1480],[574.3,1490],[574.6,1250],[576.2,1210],[579.2,1240],[582.2,1255],[586.0,1260],
  [586.3,1450],[588.5,1480],[588.8,1640],[590.2,1650],[591.7,1680],[593.2,1640],[594.7,1650],[595.0,2050],[595.3,1580],[595.8,1500],[597.2,1480],[598.3,1490],[598.6,1250],[600.2,1210],[603.2,1240],[606.2,1255],[610.0,1260],
  [610.3,1430],[612.5,1460],[612.8,1620],[614.2,1630],[615.7,1650],[617.2,1620],[618.7,1640],[619.0,1900],[619.3,1560],[619.8,1480],[621.2,1470],[622.3,1480],[622.6,1240],[624.2,1210],[627.2,1240],[630.2,1255],[634.0,1260],
  [634.3,1440],[636.5,1470],[636.8,1620],[638.2,1640],[639.7,1660],[641.2,1630],[642.7,1650],[643.0,2000],[643.3,1570],[643.8,1490],[645.2,1470],[646.3,1480],[646.6,1240],[648.2,1215],[649,1230]];
const f_s9_lo: P[][] = [[[529,1258],[538.0,1255]],[[551.5,1228],[555,1236],[562.0,1255]],[[575.5,1222],[579,1234],[586.0,1255]],[[599.5,1222],[603,1234],[610.0,1255]],[[623.5,1222],[627,1234],[634.0,1255]],[[647.5,1222],[649,1230]]];
const f_ext: P[] = [[529,1290],[533,1300],[538.0,1290],
  [538.2,1470],[540.5,1500],[540.8,1700],[542.2,1720],[543.7,1760],[545.2,1700],[546.7,1720],[547.0,2120],[547.3,1600],[547.8,1520],[549.2,1500],[550.3,1520],[550.6,1280],[552.2,1250],[555.2,1270],[558.2,1290],[562.0,1290],
  [562.2,1480],[564.5,1510],[564.8,1690],[566.2,1700],[567.7,1760],[569.2,1700],[570.7,1700],[571.0,2030],[571.3,1620],[571.8,1520],[573.2,1500],[574.3,1510],[574.6,1280],[576.2,1240],[579.2,1270],[582.2,1290],[586.0,1290],
  [586.2,1480],[588.5,1510],[588.8,1660],[590.2,1680],[591.7,1720],[593.2,1650],[594.7,1680],[595.0,2150],[595.3,1620],[595.8,1520],[597.2,1500],[598.3,1510],[598.6,1280],[600.2,1240],[603.2,1270],[606.2,1290],[610.0,1290],
  [610.2,1450],[612.5,1480],[612.8,1640],[614.2,1660],[615.7,1660],[617.2,1640],[618.7,1660],[619.0,1980],[619.3,1600],[619.8,1500],[621.2,1480],[622.3,1500],[622.6,1270],[624.2,1240],[627.2,1270],[630.2,1290],[634.0,1290],
  [634.2,1460],[636.5,1490],[636.8,1640],[638.2,1660],[639.7,1700],[641.2,1650],[642.7,1670],[643.0,2130],[643.3,1600],[643.8,1510],[645.2,1490],[646.3,1500],[646.6,1280],[648.2,1240],[649,1260]];
const f_ext_hi: P[][] = [[[540.9,1715],[546.6,1715]],[[564.9,1710],[570.6,1710]],[[588.9,1680],[594.6,1680]],[[612.9,1655],[618.6,1655]],[[636.9,1665],[642.6,1665]]];
const f_ext_sh: P[][] = [[[538.3,1485],[540.4,1485]],[[547.4,1515],[550.2,1515]],[[562.3,1495],[564.4,1495]],[[571.4,1515],[574.2,1515]],[[586.3,1495],[588.4,1495]],[[595.4,1515],[598.2,1515]],[[610.3,1465],[612.4,1465]],[[619.4,1500],[622.2,1500]],[[634.3,1475],[636.4,1475]],[[643.4,1505],[646.2,1505]]];
const f_ext_lo: P[][] = [[[529,1293],[538.0,1290]],[[550.8,1262],[555,1270],[562.0,1288]],[[574.8,1255],[579,1270],[586.0,1288]],[[598.8,1255],[603,1270],[610.0,1288]],[[622.8,1255],[627,1270],[634.0,1288]],[[646.8,1255],[649,1260]]];

// ================= Layout / styling =================
interface Layer { name: string; data?: P[]; segs?: P[][]; w: number; op?: number }
interface Panel {
  grid: { left: number; top: number; width: number; height: number };
  x: [number, number];
  y: [number, number, number];
  title: string; titleX: number; titleY: number;
  caption: string; capX: number; capY: number;
  tX: number; tY: number;
  layers: Layer[];
}

const BAND_OP = 0.9;

const panels: Panel[] = [
  {
    grid: { left: 62, top: 183, width: 487, height: 311 }, x: [217, 337], y: [13, 38, 5],
    title: "T(°C)", titleX: 17, titleY: 152, caption: "(a)", capX: 312, capY: 580, tX: 546, tY: 525,
    layers: [
      { name: N5, data: a_s5, w: 1.6 }, { name: N6, data: a_s6, w: 1.6 }, { name: N7, data: a_s7, w: 1.6 }, { name: N8, data: a_s8, w: 1.6 },
      { name: N9, segs: a_s9_hi, w: 11, op: BAND_OP }, { name: N9, segs: a_s9_lo, w: 6, op: BAND_OP }, { name: N9, data: a_s9, w: 2 },
      { name: N10, segs: a_ext_hi, w: 15, op: BAND_OP }, { name: N10, segs: a_ext_lo, w: 10, op: BAND_OP }, { name: N10, data: a_ext, w: 2 },
      { name: N2, data: a_p0, w: 8 }, { name: N1, data: a_int, w: 8 },
    ],
  },
  {
    grid: { left: 713, top: 190, width: 500, height: 304 }, x: [529, 649], y: [13, 34, 3],
    title: "T(°C)", titleX: 660, titleY: 161, caption: "(b)", capX: 953, capY: 580, tX: 1217, tY: 525,
    layers: [
      { name: N5, data: b_s5, w: 1.6 }, { name: N6, data: b_s6, w: 1.6 }, { name: N7, data: b_s7, w: 1.6 }, { name: N8, data: b_s8, w: 1.6 },
      { name: N9, segs: b_s9_hi, w: 9, op: BAND_OP }, { name: N9, segs: b_s9_lo, w: 6, op: BAND_OP }, { name: N9, data: b_s9, w: 2 },
      { name: N10, segs: b_ext_hi, w: 12, op: BAND_OP }, { name: N10, segs: b_ext_sh, w: 10, op: BAND_OP }, { name: N10, segs: b_ext_lo, w: 11, op: BAND_OP }, { name: N10, data: b_ext, w: 2 },
      { name: N1, data: b_int, w: 4 }, { name: N2, data: b_p0, w: 14, op: 0.8 },
    ],
  },
  {
    grid: { left: 62, top: 668, width: 483, height: 310 }, x: [217, 337], y: [30, 90, 10],
    title: "HR (%)", titleX: 20, titleY: 637, caption: "(c)", capX: 311, capY: 1062, tX: 539, tY: 1010,
    layers: [
      { name: N1, data: c_int, w: 8 }, { name: N2, data: c_p0, w: 9 },
      { name: N5, data: c_s5, w: 1.6 }, { name: N6, data: c_s6, w: 1.6 }, { name: N7, data: c_s7, w: 1.6 }, { name: N8, data: c_s8, w: 1.6 },
      { name: N10, segs: c_ext_hi, w: 28, op: BAND_OP }, { name: N10, segs: c_ext_lo, w: 20, op: BAND_OP }, { name: N10, segs: c_ext_sh, w: 20, op: BAND_OP }, { name: N10, data: c_ext, w: 1.8 },
      { name: N9, segs: c_s9_hi, w: 16, op: BAND_OP }, { name: N9, segs: c_s9_lo, w: 8, op: BAND_OP }, { name: N9, data: c_s9, w: 1.8 },
    ],
  },
  {
    grid: { left: 724, top: 670, width: 490, height: 308 }, x: [529, 649], y: [30, 90, 10],
    title: "HR (%)", titleX: 660, titleY: 642, caption: "(d)", capX: 953, capY: 1062, tX: 1217, tY: 1015,
    layers: [
      { name: N1, data: d_int, w: 5 }, { name: N2, data: d_p0, w: 13, op: 0.85 },
      { name: N5, data: d_s5, w: 1.6 }, { name: N6, data: d_s6, w: 1.6 }, { name: N7, data: d_s7, w: 1.6 }, { name: N8, data: d_s8, w: 1.6 },
      { name: N10, segs: d_ext_hi, w: 30, op: BAND_OP }, { name: N10, segs: d_ext_lo, w: 16, op: BAND_OP }, { name: N10, segs: d_ext_sh, w: 24, op: BAND_OP }, { name: N10, data: d_ext, w: 1.8 },
      { name: N9, segs: d_s9_hi, w: 18, op: BAND_OP }, { name: N9, segs: d_s9_lo, w: 10, op: BAND_OP }, { name: N9, data: d_s9, w: 1.8 },
    ],
  },
  {
    grid: { left: 91, top: 1150, width: 483, height: 311 }, x: [217, 337], y: [1000, 2800, 300],
    title: "Pv (Pa)", titleX: 20, titleY: 1117, caption: "(e)", capX: 311, capY: 1545, tX: 563, tY: 1492,
    layers: [
      { name: N1, data: e_int, w: 2 }, { name: N2, data: e_p0, w: 3 },
      { name: N5, data: e_s5, w: 1.6 }, { name: N6, data: e_s6, w: 1.6 }, { name: N7, data: e_s7, w: 1.6 }, { name: N8, data: e_s8, w: 1.6 },
      { name: N9, segs: e_s9_lo, w: 10, op: BAND_OP }, { name: N9, data: e_s9, w: 2 },
      { name: N10, segs: e_ext_hi, w: 18, op: BAND_OP }, { name: N10, segs: e_ext_sh, w: 12, op: BAND_OP }, { name: N10, segs: e_ext_lo, w: 14, op: BAND_OP }, { name: N10, data: e_ext, w: 2 },
    ],
  },
  {
    grid: { left: 732, top: 1160, width: 482, height: 301 }, x: [529, 649], y: [1000, 2800, 300],
    title: "Pv (Pa)", titleX: 658, titleY: 1121, caption: "(f)", capX: 953, capY: 1545, tX: 1214, tY: 1492,
    layers: [
      { name: N1, data: f_int, w: 3 }, { name: N2, data: f_p0, w: 2.5 },
      { name: N5, data: f_s5, w: 1.6 }, { name: N6, data: f_s6, w: 1.6 }, { name: N7, data: f_s7, w: 1.6 }, { name: N8, data: f_s8, w: 1.6 },
      { name: N9, segs: f_s9_lo, w: 9, op: BAND_OP }, { name: N9, data: f_s9, w: 2 },
      { name: N10, segs: f_ext_hi, w: 22, op: BAND_OP }, { name: N10, segs: f_ext_sh, w: 12, op: BAND_OP }, { name: N10, segs: f_ext_lo, w: 15, op: BAND_OP }, { name: N10, data: f_ext, w: 2 },
    ],
  },
];

const LEG_X = [97, 367, 635, 904];
const LEG_Y = [3, 72];

function bandData(segs: P[][]): any[] {
  const out: any[] = [];
  segs.forEach((s, i) => {
    if (i > 0) out.push([s[0][0], "-"]);
    s.forEach((p) => out.push(p));
  });
  return out;
}

function buildOption(): any {
  const grids: any[] = [];
  const xAxes: any[] = [];
  const yAxes: any[] = [];
  const series: any[] = [];
  const graphics: any[] = [];
  const axisGray = "#8c8c8c";

  panels.forEach((p, gi) => {
    grids.push({ ...p.grid, show: true, borderColor: axisGray, borderWidth: 1.5, backgroundColor: "transparent", containLabel: false });
    const xmax = p.x[1];
    xAxes.push({
      gridIndex: gi, type: "value", min: p.x[0], max: p.x[1], interval: 24,
      axisLine: { show: true, onZero: false, lineStyle: { color: axisGray, width: 1.5 } },
      axisTick: { show: true, inside: false, length: 7, lineStyle: { color: axisGray, width: 1 } },
      splitLine: { show: true, lineStyle: { color: "#a6a6a6", width: 1 } },
      axisLabel: { show: true, fontSize: 25, color: "#000", fontFamily: FONT, margin: 18, showMinLabel: true, showMaxLabel: true,
        formatter: (v: number) => (v === xmax ? "" : String(v)) },
    });
    yAxes.push({
      gridIndex: gi, type: "value", min: p.y[0], max: p.y[1], interval: p.y[2],
      axisLine: { show: true, onZero: false, lineStyle: { color: axisGray, width: 1.5 } },
      axisTick: { show: true, inside: false, length: 7, lineStyle: { color: axisGray, width: 1 } },
      splitLine: { show: true, lineStyle: { color: "#a6a6a6", width: 1 } },
      axisLabel: { show: true, fontSize: 25, color: "#000", fontFamily: FONT, margin: 21, showMinLabel: true, showMaxLabel: true,
        formatter: (v: number) => String(v) },
    });
    p.layers.forEach((l) => {
      const color = COLOR[l.name];
      series.push({
        type: "line", name: l.name, xAxisIndex: gi, yAxisIndex: gi,
        data: l.segs ? bandData(l.segs) : l.data,
        showSymbol: false, symbol: "none", silent: true, connectNulls: false, clip: true,
        itemStyle: { color },
        lineStyle: { color, width: l.w, opacity: l.op ?? 1, cap: "butt", join: "round" },
        emphasis: { disabled: true },
        animation: false,
      });
    });
    graphics.push(
      { type: "text", x: p.titleX, y: p.titleY, silent: true,
        style: { text: p.title, fontSize: 26, fontWeight: "bold", fontFamily: FONT, fill: "#000", textAlign: "left", textVerticalAlign: "middle", align: "left", verticalAlign: "middle" } },
      { type: "text", x: p.tX, y: p.tY, silent: true,
        style: { text: "t(h)", fontSize: 26, fontWeight: "bold", fontFamily: FONT, fill: "#000", textAlign: "center", textVerticalAlign: "middle", align: "center", verticalAlign: "middle" } },
      { type: "text", x: p.capX, y: p.capY, silent: true,
        style: { text: p.caption, fontSize: 24, fontWeight: "normal", fontFamily: FONT, fill: "#000", textAlign: "center", textVerticalAlign: "middle", align: "center", verticalAlign: "middle" } },
    );
  });

  const legends = LEGEND_NAMES.map((name, i) => ({
    show: true,
    data: [{ name, icon: "rect", itemStyle: { color: COLOR[name], opacity: 1 } }],
    left: LEG_X[i % 4], top: LEG_Y[Math.floor(i / 4)],
    orient: "horizontal", icon: "rect", itemWidth: 73, itemHeight: 3, itemGap: 0, padding: 0,
    selectedMode: false,
    textStyle: { fontSize: 27, fontFamily: FONT, color: "#000", lineHeight: 30 },
  }));

  return {
    animation: false,
    backgroundColor: "#ffffff",
    textStyle: { fontFamily: FONT },
    legend: legends,
    grid: grids,
    xAxis: xAxes,
    yAxis: yAxes,
    series,
    graphic: graphics,
  };
}

export default function App() {
  const ref = useRef<HTMLDivElement>(null);
  useEffect(() => {
    if (!ref.current) return;
    const chart = echarts.init(ref.current, null, { renderer: "svg" });
    chart.setOption(buildOption());
    return () => chart.dispose();
  }, []);
  return (
    <div
      ref={ref}
      style={{ position: "absolute", left: 0, top: 0, width: 1254, height: 1564, background: "#fff" }}
    />
  );
}
